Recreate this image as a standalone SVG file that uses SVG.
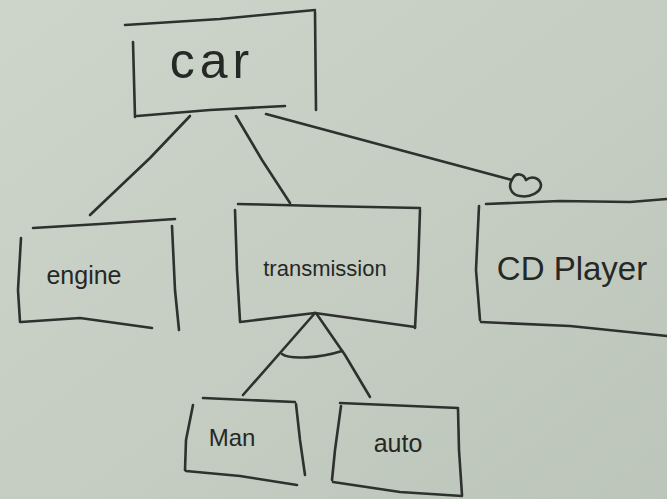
<svg xmlns="http://www.w3.org/2000/svg" width="667" height="499" viewBox="0 0 667 499">
<defs>
<linearGradient id="bg" x1="0" y1="0" x2="1" y2="1">
<stop offset="0" stop-color="#cdd4ca"/>
<stop offset="0.5" stop-color="#c6cec3"/>
<stop offset="1" stop-color="#bcc5ba"/>
</linearGradient>
<filter id="soft" x="-5%" y="-5%" width="110%" height="110%"><feGaussianBlur stdDeviation="0.7"/></filter>
</defs>
<style>
.ink{fill:none;stroke:#2e302e;stroke-width:2.6;stroke-linecap:round;stroke-linejoin:round}
.lbl{font-family:"Liberation Sans","DejaVu Sans",sans-serif;fill:#262826}
</style>
<rect x="0" y="0" width="667" height="499" fill="url(#bg)"/>
<g filter="url(#soft)">
<g id="connectors" class="ink">
<path d="M190 116 L150 158 L90 215"/>
<path d="M236 116 L262 160 L290 203"/>
<path d="M266 114 L400 150 L512 180"/>
<path d="M513 178 C507 186 511 195 520 196 C530 198 541 192 541 185 C540 178 532 175 526 180 C524 174 516 172 513 178 Z"/>
<path d="M315 313 L280 353 L243 395"/>
<path d="M316 313 L345 355 L370 397"/>
<path d="M282 354 C290 360 320 358 342 351"/>
</g>
<g id="car" class="ink">
<path d="M125 25 L220 19 L315 10"/>
<path d="M315 12 L316 110"/>
<path d="M133 42 L135 117"/>
<path d="M137 116 L210 110 L285 106"/>
</g>
<g id="engine" class="ink">
<path d="M33 228 L100 224 L175 219"/>
<path d="M172 226 L175 290 L179 330"/>
<path d="M21 238 L18 290 L20 322"/>
<path d="M21 322 L80 318 L152 328"/>
</g>
<g id="transmission" class="ink">
<path d="M238 204 L320 206 L420 208"/>
<path d="M420 210 L418 270 L415 328"/>
<path d="M235 210 L237 270 L240 321"/>
<path d="M240 322 L315 313 L415 327"/>
</g>
<g id="cdplayer" class="ink">
<path d="M486 204 L560 201 L630 202 L667 199"/>
<path d="M479 206 L476 270 L480 320"/>
<path d="M481 322 L570 326 L667 336"/>
</g>
<g id="man" class="ink">
<path d="M203 398 L295 402"/>
<path d="M296 404 L300 440 L305 475"/>
<path d="M193 405 L186 440 L185 470"/>
<path d="M186 471 L240 476 L297 485"/>
</g>
<g id="auto" class="ink">
<path d="M340 403 L458 408"/>
<path d="M458 409 L459 450 L462 495"/>
<path d="M341 406 L335 450 L332 480"/>
<path d="M333 482 L400 492 L462 496"/>
</g>
</g>
<g class="lbl">
<text x="212" y="78" font-size="50" letter-spacing="5" text-anchor="middle">car</text>
<text x="84" y="284" font-size="25" text-anchor="middle">engine</text>
<text x="325" y="276" font-size="22" text-anchor="middle">transmission</text>
<text x="572" y="280" font-size="33" text-anchor="middle">CD Player</text>
<text x="232" y="446" font-size="24" text-anchor="middle">Man</text>
<text x="398" y="452" font-size="25" text-anchor="middle">auto</text>
</g>
</svg>
